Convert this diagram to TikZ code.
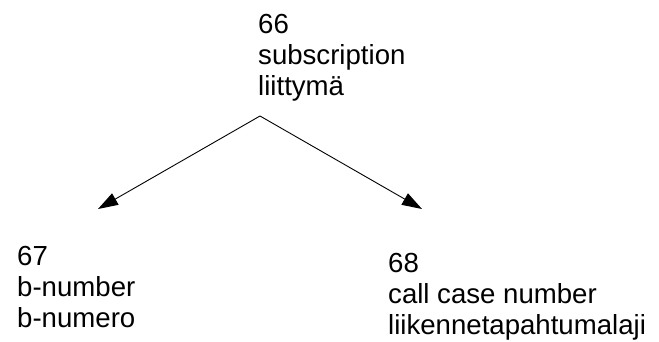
\documentclass[tikz,border=0pt]{standalone}
\usepackage{fontspec}
\setmainfont{Liberation Sans}
\usetikzlibrary{arrows.meta}
\begin{document}
\begin{tikzpicture}[x=1pt,y=-1pt,
  label text/.style={anchor=base west,inner sep=0pt,align=left,
    font=\fontsize{27.6}{31}\selectfont},
  link/.style={line width=0.9pt,-{Triangle[length=20pt,width=13pt]}}]
  \useasboundingbox (0,0) rectangle (659,342);
  % entity labels (positioned by the baseline of their last line)
  \node[label text] (top) at (258,96) {66\\subscription\\liittymä};
  \node[label text] (left) at (17,327) {67\\b-number\\b-numero};
  \node[label text] (right) at (388,334) {68\\call case number\\liikennetapahtumalaji};
  % branching point and arrow ends
  \coordinate (apex) at (260,116);
  \coordinate (tipL) at (98,209);
  \coordinate (tipR) at (422,209);
  \draw[link] (apex) -- (tipL);
  \draw[link] (apex) -- (tipR);
\end{tikzpicture}
\end{document}
